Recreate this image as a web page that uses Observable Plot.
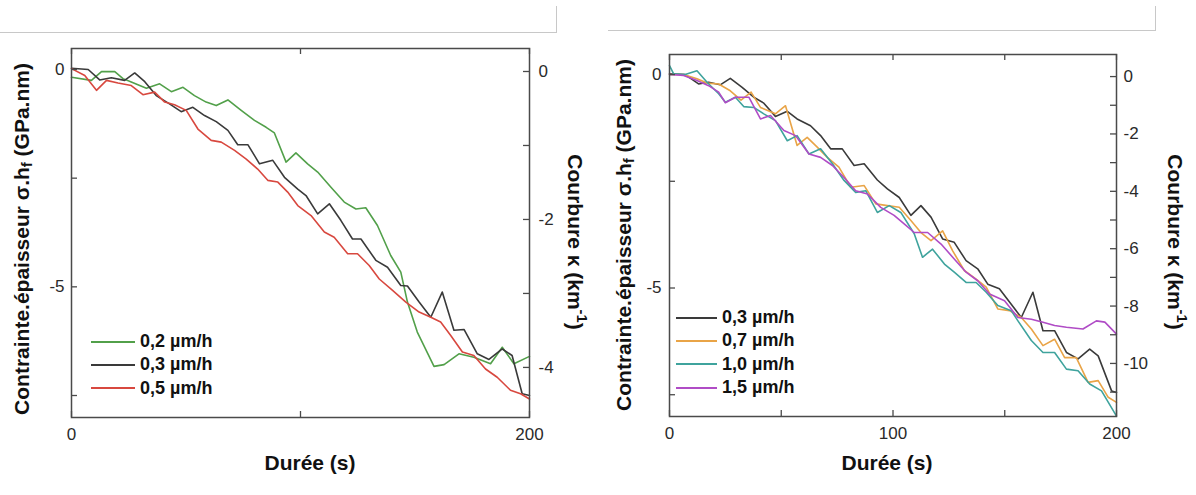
<!DOCTYPE html>
<html><head><meta charset="utf-8">
<script src="https://cdn.jsdelivr.net/npm/d3@7"></script>
<script src="https://cdn.jsdelivr.net/npm/@observablehq/plot@0.6"></script>
<style>
body{margin:0;background:#fff;font-family:"Liberation Sans",Arial,sans-serif;}
#wrap{position:relative;width:1196px;height:495px;overflow:hidden;background:#fff;}
.abs{position:absolute;}
.ttl{position:absolute;white-space:nowrap;font-weight:bold;font-size:21px;color:#111;line-height:1;}
.leg{position:absolute;font-weight:bold;font-size:18px;color:#111;}
.leg .row{height:23.3px;display:flex;align-items:center;white-space:nowrap;}
.leg .sw{display:inline-block;height:2px;margin-right:5px;}
sub{font-size:0.7em;vertical-align:-0.25em;}
sup{font-size:0.7em;vertical-align:0.55em;}
</style>
</head><body><div id="wrap"></div>
<script>
// ---------- Panel A (left): growth rates 0,2 / 0,3 / 0,5 µm/h ----------
const seriesA = ["0,2 µm/h", "0,3 µm/h", "0,5 µm/h"];
const colorsA = ["#52a04a", "#3a3a3a", "#d8483f"];
const tA02 = [0,8.7,13.1,18.9,22.5,26.1,32.7,38.5,43.6,48.7,53.7,58.8,63.2,68.3,74.1,79.9,85,88.6,93.7,98,103.1,107.5,113.3,119.1,124.2,128.5,133.6,139.4,143.8,146.7,151,158.3,162.7,169.2,175.7,183,188.1,193.2,200];
const vA02 = [-0.18,-0.25,-0.05,-0.05,-0.21,-0.29,-0.43,-0.33,-0.51,-0.41,-0.6,-0.75,-0.83,-0.7,-0.94,-1.17,-1.33,-1.46,-2.13,-1.92,-2.17,-2.36,-2.71,-3.05,-3.21,-3.18,-3.59,-4.28,-4.66,-5.35,-6.04,-6.83,-6.79,-6.54,-6.62,-6.77,-6.39,-6.77,-6.6];
const tA03 = [0,7.3,12.3,17.4,23.2,27.6,32,37,42.8,47.9,53,58.1,63.2,68.3,72.6,77,82.1,87.9,93,98.8,102.4,107.5,112.6,117.6,122.7,126.4,132.9,138,143.8,146.7,151.8,156.9,161.9,167,171.4,177.2,182.3,188.1,192.4,196.8,200];
const vA03 = [0.03,0,-0.24,-0.19,-0.25,-0.08,-0.28,-0.6,-0.79,-0.97,-0.87,-1.06,-1.2,-1.4,-1.73,-1.73,-2.17,-2.09,-2.48,-2.75,-2.9,-3.32,-3.09,-3.47,-3.9,-3.9,-4.39,-4.55,-4.97,-4.98,-5.35,-5.7,-5.12,-6,-5.98,-6.54,-6.67,-6.43,-6.58,-7.46,-7.5];
const tA05 = [0,5.8,10.9,15.3,20.3,26.1,31.2,36.3,40.7,45,50.1,55.2,61,65.4,71.2,76.3,81.3,85.7,90.1,94.4,98.8,104.6,110.4,114.7,120.6,124.9,130,134.4,140.2,146,151.8,156.9,161.2,165.6,170.7,175.7,180.8,185.9,191.7,196.1,200];
const vA05 = [0.02,-0.14,-0.48,-0.25,-0.31,-0.37,-0.58,-0.52,-0.75,-0.81,-0.94,-1.37,-1.63,-1.67,-1.86,-2.06,-2.29,-2.55,-2.59,-2.82,-3.13,-3.36,-3.74,-3.86,-4.24,-4.24,-4.51,-4.82,-5.08,-5.35,-5.58,-5.7,-5.81,-6.12,-6.5,-6.58,-6.89,-7.08,-7.38,-7.46,-7.58];

// ---------- Panel B (right): growth rates 0,3 / 0,7 / 1,0 / 1,5 µm/h ----------
const seriesB = ["0,3 µm/h", "0,7 µm/h", "1,0 µm/h", "1,5 µm/h"];
const colorsB = ["#3a3a3a", "#e9a447", "#3fa39d", "#b04cc6"];
const tB03 = [0,7,13,17.5,22.7,27.2,32.5,37.7,42.2,47.4,52.7,57.1,63.1,67.6,72.1,77.3,82.6,87.1,93,97.5,102.8,108,112.5,117,122.2,127.4,132.7,137.9,142.4,147.6,152.9,157.4,162.6,167.1,172.3,177.6,182.8,188,191.8,197.8,200];
const vB03 = [0.02,0,-0.22,-0.18,-0.24,-0.09,-0.3,-0.53,-0.67,-0.98,-0.86,-1.04,-1.2,-1.43,-1.74,-1.74,-2.13,-2.09,-2.47,-2.68,-2.88,-3.3,-3.07,-3.34,-3.85,-3.93,-4.36,-4.55,-4.91,-5.02,-5.38,-5.69,-5.1,-6,-6,-6.51,-6.66,-6.43,-6.59,-7.41,-7.45];
const tB07 = [0,6.3,12.3,16.8,22,27.2,32,36.5,40.7,47.4,51.9,57.1,61.6,66.1,70.6,75.8,81.1,87.1,92.3,97.5,102.8,108,112.5,117,122.2,126.7,131.9,137.2,141.7,146.9,152.1,157.4,161.9,167.1,172.3,176.8,182,187.3,191.8,196.3,200];
const vB07 = [0,0,-0.1,-0.2,-0.22,-0.38,-0.6,-0.41,-0.77,-0.92,-0.73,-1.66,-1.47,-1.7,-1.94,-2.17,-2.64,-2.6,-3.03,-3.07,-3.11,-3.42,-3.7,-3.89,-3.66,-4.13,-4.59,-4.79,-4.98,-5.49,-5.53,-5.69,-5.96,-6.35,-6.2,-6.63,-6.63,-7.21,-7.17,-7.56,-7.68];
const tB10 = [0,1.8,7,12.3,16.8,22,25,29.5,33.2,37.7,42.2,47.4,52.7,57.1,62.4,67.6,72.9,78.1,83.3,87.8,93,98.3,103.5,109.5,113.2,117.7,123,127.4,132.7,137.2,141.7,146.9,152.9,155.9,161.9,167.1,172.3,177.6,182.8,188,193.3,200];
const vB10 = [0.21,0.02,0,0.09,-0.18,-0.45,-0.65,-0.53,-0.75,-0.77,-0.92,-1.08,-1.55,-1.43,-1.86,-1.74,-2.09,-2.48,-2.76,-2.72,-3.23,-3.07,-3.23,-3.73,-4.28,-4.09,-4.44,-4.63,-4.87,-4.87,-5.1,-5.41,-5.53,-5.77,-6.23,-6.51,-6.51,-6.9,-6.94,-7.25,-7.41,-8];
const tB15 = [0,6.3,12.3,17.5,22,25,29.5,35.5,40.7,45.2,51.2,56.4,62.4,67.6,72.9,78.1,83.3,88.6,94.5,100.5,105,109.5,115.5,121.5,127.4,132.7,137.9,143.2,149.9,155.9,161.9,167.1,172.3,177.6,185,191,194.8,200];
const vB15 = [0,-0.02,-0.14,-0.26,-0.41,-0.66,-0.53,-0.53,-1.04,-0.96,-1.31,-1.43,-1.86,-1.94,-2.13,-2.41,-2.72,-2.8,-3.11,-3.3,-3.5,-3.7,-3.7,-3.97,-4.32,-4.63,-4.83,-5.14,-5.3,-5.69,-5.73,-5.8,-5.88,-5.92,-5.96,-5.77,-5.8,-6.08];

// ---------- Axis ticks / labels ----------
const xMajorA = [0, 200], xMinorA = [100];
const xMajorB = [0, 100, 200], xMinorB = [50, 150];
const yMajor = [0, -5], yMinor = [-2.5, -7.5];
const kMajorA = [0, -2, -4], kMinorA = [-1, -3];
const kMajorB = [0, -2, -4, -6, -8, -10], kMinorB = [-1, -3, -5, -7, -9, -11];
// curvature (right axis) expressed on the left stress axis: stress = k0 + kScale * curvature
const kLinkA = {k0: -0.046, kScale: 1.702};
const kLinkB = {k0: -0.047, kScale: 0.672};

const yTitle = 'Contrainte.épaisseur σ.h<sub>f</sub> (GPa.nm)';
const kTitle = 'Courbure κ (km<sup>-1</sup>)';
const xTitle = 'Durée (s)';

function rows(names, ts, vs) {
  const out = [];
  names.forEach((s, i) => ts[i].forEach((t, j) => out.push({s, t, v: vs[i][j]})));
  return out;
}

function panel(o) {
  const fw = o.width - o.mL - o.mR, fh = o.height - o.mT - o.mB, tl = 6;
  const kToY = k => o.link.k0 + o.link.kScale * k;
  const stroke = "#4a4a4a";
  return Plot.plot({
    width: o.width, height: o.height,
    marginLeft: o.mL, marginRight: o.mR, marginTop: o.mT, marginBottom: o.mB,
    x: {domain: [0, 200]},
    y: {domain: o.yDomain},
    color: {domain: o.names, range: o.colors},
    style: {background: "transparent", fontFamily: "'Liberation Sans', Arial, sans-serif", fontSize: "17px", color: "#2a2a2a", overflow: "visible"},
    marks: [
      Plot.line(o.data, {x: "t", y: "v", z: "s", stroke: "s", strokeWidth: 1.6}),
      Plot.frame({stroke, strokeWidth: 1.5}),
      Plot.tickY(yMajor.concat(yMinor), {y: d => d, insetRight: fw - tl, stroke, strokeWidth: 1.3}),
      Plot.tickY(o.kMajor.concat(o.kMinor), {y: d => kToY(d), insetLeft: fw - tl, stroke, strokeWidth: 1.3}),
      Plot.tickX(o.xMajor.concat(o.xMinor), {x: d => d, insetTop: fh - tl, stroke, strokeWidth: 1.3}),
      Plot.tickX(o.xMajor.concat(o.xMinor), {x: d => d, insetBottom: fh - tl, stroke, strokeWidth: 1.3}),
      Plot.axisY({ticks: yMajor, tickSize: 0, tickPadding: o.yPad, tickFormat: d => String(d), label: null, anchor: "left"}),
      Plot.axisX({ticks: o.xMajor, tickSize: 0, tickPadding: 10, tickFormat: d => String(d), label: null, anchor: "bottom"}),
      Plot.text(o.kMajor, {y: d => kToY(d), text: d => String(d), frameAnchor: "right", textAnchor: "start", dx: o.kPad, fontSize: 17, fill: "#2a2a2a"})
    ]
  });
}

const wrap = document.getElementById("wrap");

function place(el, left, top) {
  el.style.position = "absolute"; el.style.left = left + "px"; el.style.top = top + "px";
  wrap.appendChild(el);
}

const plotA = panel({
  width: 600, height: 495, mL: 71, mR: 71, mT: 48, mB: 78,
  yDomain: [-8.006, 0.483], names: seriesA, colors: colorsA,
  data: rows(seriesA, [tA02, tA03, tA05], [vA02, vA03, vA05]),
  xMajor: xMajorA, xMinor: xMinorA, kMajor: kMajorA, kMinor: kMinorA, link: kLinkA, yPad: 7, kPad: 9
});
place(plotA, 0, 0);

const plotB = panel({
  width: 596, height: 495, mL: 69, mR: 80, mT: 54, mB: 79,
  yDomain: [-8.01, 0.47], names: seriesB, colors: colorsB,
  data: rows(seriesB, [tB03, tB07, tB10, tB15], [vB03, vB07, vB10, vB15]),
  xMajor: xMajorB, xMinor: xMinorB, kMajor: kMajorB, kMinor: kMinorB, link: kLinkB, yPad: 8, kPad: 7
});
place(plotB, 600, 0);

// titles
function title(html, cx, cy, rot) {
  const d = document.createElement("div");
  d.className = "ttl"; d.innerHTML = html;
  d.style.left = cx + "px"; d.style.top = cy + "px";
  d.style.transform = "translate(-50%,-50%)" + (rot ? " rotate(" + rot + "deg)" : "");
  wrap.appendChild(d);
}
title(yTitle, 23, 239, -90);
title(kTitle, 577, 242, 90);
title(xTitle, 310, 462, 0);
title(yTitle, 625, 235, -90);
title(kTitle, 1177, 242, 90);
title(xTitle, 887, 462, 0);

// legends
function legend(names, colors, left, top, sw) {
  const d = document.createElement("div");
  d.className = "leg"; d.style.left = left + "px"; d.style.top = top + "px";
  names.forEach((n, i) => {
    const r = document.createElement("div"); r.className = "row";
    const s = document.createElement("span"); s.className = "sw";
    s.style.width = sw + "px"; s.style.background = colors[i];
    r.appendChild(s); r.appendChild(document.createTextNode(n));
    d.appendChild(r);
  });
  wrap.appendChild(d);
}
legend(seriesA, colorsA, 91, 330, 44);
legend(seriesB, colorsB, 676, 306, 41);

// thin gray screenshot border fragments at the top
function box(css) { const d = document.createElement("div"); d.className = "abs"; Object.assign(d.style, css); wrap.appendChild(d); }
box({left: "0px", top: "32px", width: "556px", height: "0px", borderTop: "1px solid #c8c8c8"});
box({left: "556px", top: "6px", width: "0px", height: "27px", borderLeft: "1px solid #c8c8c8"});
box({left: "608px", top: "30px", width: "547px", height: "0px", borderTop: "1px solid #c8c8c8"});
box({left: "1155px", top: "6px", width: "0px", height: "25px", borderLeft: "1px solid #c8c8c8"});
</script>
</body></html>
